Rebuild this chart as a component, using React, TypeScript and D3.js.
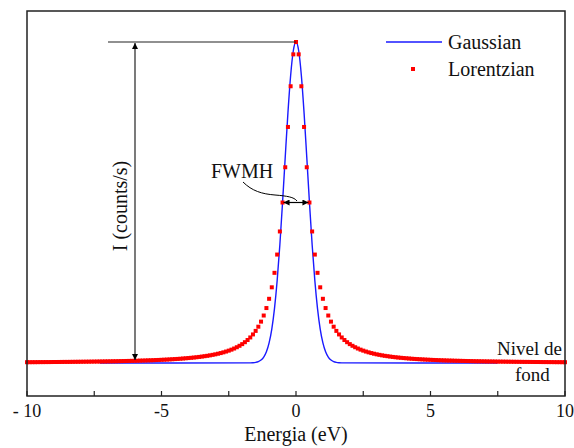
import React from "react";
import * as d3 from "d3";

// Lorentzian samples (x = -10 ... 10, step 0.1), normalised intensity
const lorentzX: number[] = d3.range(-100, 101).map((i) => i / 10);
const lorentzY: number[] = [
  0.0025,0.0025,0.0026,0.0026,0.0027,0.0028,0.0028,0.0029,0.0029,0.003,
  0.0031,0.0031,0.0032,0.0033,0.0034,0.0034,0.0035,0.0036,0.0037,0.0038,
  0.0039,0.004,0.0041,0.0042,0.0043,0.0044,0.0045,0.0047,0.0048,0.0049,
  0.0051,0.0052,0.0054,0.0055,0.0057,0.0059,0.0061,0.0063,0.0065,0.0067,
  0.0069,0.0071,0.0074,0.0076,0.0079,0.0082,0.0085,0.0088,0.0092,0.0095,
  0.0099,0.0103,0.0107,0.0112,0.0117,0.0122,0.0127,0.0133,0.014,0.0147,
  0.0154,0.0162,0.017,0.0179,0.0189,0.02,0.0212,0.0224,0.0238,0.0254,
  0.027,0.0289,0.0309,0.0332,0.0357,0.0385,0.0416,0.0451,0.0491,0.0536,
  0.0588,0.0648,0.0716,0.0796,0.089,0.1,0.1131,0.1289,0.1479,0.1712,
  0.2,0.2358,0.2809,0.3378,0.4098,0.5,0.6098,0.7353,0.8621,0.9615,
  1,
  0.9615,0.8621,0.7353,0.6098,0.5,0.4098,0.3378,0.2809,0.2358,0.2,
  0.1712,0.1479,0.1289,0.1131,0.1,0.089,0.0796,0.0716,0.0648,0.0588,
  0.0536,0.0491,0.0451,0.0416,0.0385,0.0357,0.0332,0.0309,0.0289,0.027,
  0.0254,0.0238,0.0224,0.0212,0.02,0.0189,0.0179,0.017,0.0162,0.0154,
  0.0147,0.014,0.0133,0.0127,0.0122,0.0117,0.0112,0.0107,0.0103,0.0099,
  0.0095,0.0092,0.0088,0.0085,0.0082,0.0079,0.0076,0.0074,0.0071,0.0069,
  0.0067,0.0065,0.0063,0.0061,0.0059,0.0057,0.0055,0.0054,0.0052,0.0051,
  0.0049,0.0048,0.0047,0.0045,0.0044,0.0043,0.0042,0.0041,0.004,0.0039,
  0.0038,0.0037,0.0036,0.0035,0.0034,0.0034,0.0033,0.0032,0.0031,0.0031,
  0.003,0.0029,0.0029,0.0028,0.0028,0.0027,0.0026,0.0026,0.0025,0.0025,
];

// Gaussian curve samples
const gaussX: number[] = [
  -7.3, -1.7, -1.6, -1.5, -1.4, -1.3, -1.2, -1.1, -1.0, -0.9, -0.8, -0.7, -0.6,
  -0.5, -0.4, -0.3, -0.2, -0.1, 0, 0.1, 0.2, 0.3, 0.4, 0.5, 0.6, 0.7, 0.8, 0.9,
  1.0, 1.1, 1.2, 1.3, 1.4, 1.5, 1.6, 1.7, 7.5,
];
const gaussY: number[] = [
  0, 0.0003, 0.0008, 0.002, 0.0044, 0.0092, 0.0185, 0.0349, 0.0625, 0.1058,
  0.1696, 0.257, 0.3686, 0.5, 0.6417, 0.7792, 0.895, 0.9727, 1, 0.9727, 0.895,
  0.7792, 0.6417, 0.5, 0.3686, 0.257, 0.1696, 0.1058, 0.0625, 0.0349, 0.0185,
  0.0092, 0.0044, 0.002, 0.0008, 0.0003, 0,
];

const majorTicks: number[] = [-10, -5, 0, 5, 10];
const majorTickLabels: string[] = ["- 10", "-5", "0", "5", "10"];
const minorTicks: number[] = [-7.5, -2.5, 2.5, 7.5];
const fwhmHalf = 0.5;
const legendLabels: string[] = ["Gaussian", "Lorentzian"];

const W = 574;
const H = 448;
const FONT = '"Liberation Serif"';

function T(props: any) {
  const { children, size, ...rest } = props;
  return (
    <text {...rest} fontSize={size} fill="#111" style={{ fontFamily: FONT }}>
      {children}
    </text>
  );
}

export default function App() {
  const left = 27, right = 565, top = 11, bottom = 396;
  const x = d3.scaleLinear().domain([-10, 10]).range([left, right]);
  const y = d3.scaleLinear().domain([0, 1]).range([363, 42]);

  const gaussLine = d3
    .line<number>()
    .x((_, i) => x(gaussX[i]))
    .y((d) => y(d))
    .curve(d3.curveMonotoneX)(gaussY) as string;

  const blue = "#1a1aff";
  const red = "#ff0000";
  const dark = "#222";

  const arrowX = 135;
  const yPeak = y(1);
  const yBase = y(0);
  const yHalf = y(0.5);
  const xl = x(-fwhmHalf);
  const xr = x(fwhmHalf);

  return (
    <svg width={W} height={H} style={{ position: "absolute", left: 0, top: 0 }}>
      <defs>
        <marker id="ah" viewBox="0 0 10 10" refX="10" refY="5" markerWidth="6" markerHeight="6" orient="auto-start-reverse" markerUnits="userSpaceOnUse">
          <path d="M0,0 L10,5 L0,10 z" fill="#000" />
        </marker>
      </defs>
      <rect x={0} y={0} width={W} height={H} fill="#fff" />

      {/* Gaussian */}
      <path d={gaussLine} fill="none" stroke={blue} strokeWidth={1.4} />

      {/* Lorentzian points */}
      {lorentzY.map((v, i) => (
        <rect key={i} x={x(lorentzX[i]) - 2} y={y(v) - 2} width={4} height={4} fill={red} />
      ))}

      {/* frame */}
      <rect x={left} y={top} width={right - left} height={bottom - top} fill="none" stroke={dark} strokeWidth={1.5} />

      {/* ticks */}
      {majorTicks.map((t) => (
        <line key={"M" + t} x1={x(t)} x2={x(t)} y1={bottom} y2={bottom - 5} stroke={dark} strokeWidth={1.2} />
      ))}
      {minorTicks.map((t) => (
        <line key={"m" + t} x1={x(t)} x2={x(t)} y1={bottom} y2={bottom - 5} stroke={dark} strokeWidth={1.2} />
      ))}
      {majorTicks.map((t, i) => (
        <T key={"L" + t} x={x(t)} y={417} textAnchor="middle" size={18}>
          {majorTickLabels[i]}
        </T>
      ))}
      <T x={x(0)} y={441} textAnchor="middle" size={20}>
        Energia (eV)
      </T>

      {/* peak intensity annotation */}
      <line x1={108} x2={x(0)} y1={yPeak} y2={yPeak} stroke={dark} strokeWidth={1.2} />
      <line x1={arrowX} x2={arrowX} y1={yPeak + 1} y2={yBase - 3} stroke={dark} strokeWidth={1.2} markerStart="url(#ah)" markerEnd="url(#ah)" />
      <T transform={`translate(${127},${206}) rotate(-90)`} textAnchor="middle" size={20}>
        I (counts/s)
      </T>

      {/* FWHM annotation */}
      <T x={211} y={178} size={20}>FWMH</T>
      <path d={`M243,182 C252,191 262,194 275,195 C287,196 294,197 297,201`} fill="none" stroke="#000" strokeWidth={1} />
      <line x1={xl + 1} x2={xr - 1} y1={yHalf} y2={yHalf} stroke="#000" strokeWidth={1.2} markerStart="url(#ah)" markerEnd="url(#ah)" />

      {/* background label */}
      <T x={562} y={355} textAnchor="end" size={19}>Nivel de</T>
      <T x={515} y={381} size={19}>fond</T>

      {/* legend */}
      <line x1={386} x2={442} y1={42} y2={42} stroke={blue} strokeWidth={1.4} />
      <T x={448} y={49} size={20}>{legendLabels[0]}</T>
      <rect x={411} y={67} width={4} height={4} fill={red} />
      <T x={448} y={76} size={20}>{legendLabels[1]}</T>
    </svg>
  );
}
